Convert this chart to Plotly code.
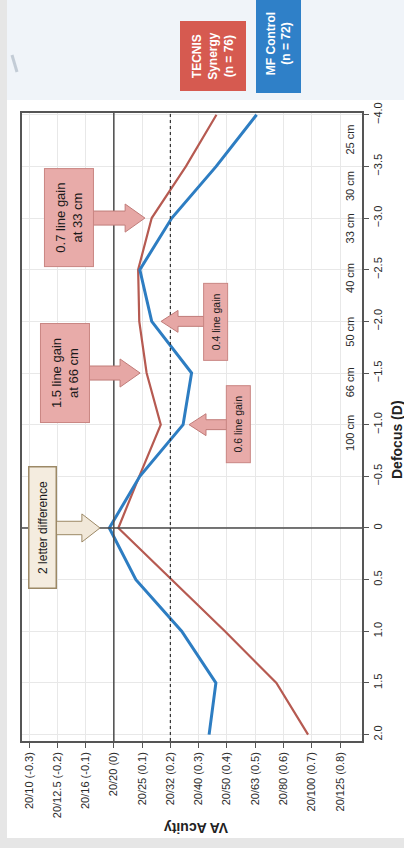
import plotly.graph_objects as go

# ---------------- data ----------------
defocus = [2.0, 1.5, 1.0, 0.5, 0.0, -0.5, -1.0, -1.5, -2.0, -2.5, -3.0, -3.5, -4.0]
synergy = [0.687, 0.575, 0.393, 0.204, 0.016, 0.090, 0.166, 0.116, 0.090, 0.086, 0.134, 0.255, 0.363]
mf_control = [0.337, 0.361, 0.240, 0.078, -0.016, 0.092, 0.245, 0.275, 0.134, 0.092, 0.205, 0.362, 0.505]

va_tickvals = [-0.3, -0.2, -0.1, 0.0, 0.1, 0.2, 0.3, 0.4, 0.5, 0.6, 0.7, 0.8]
va_ticktext = ["20/10 (-0.3)", "20/12.5 (-0.2)", "20/16 (-0.1)", "20/20 (0)", "20/25 (0.1)",
               "20/32 (0.2)", "20/40 (0.3)", "20/50 (0.4)", "20/63 (0.5)", "20/80 (0.6)",
               "20/100 (0.7)", "20/125 (0.8)"]
defocus_tickvals = [-4.0, -3.5, -3.0, -2.5, -2.0, -1.5, -1.0, -0.5, 0.0, 0.5, 1.0, 1.5, 2.0]
defocus_ticktext = ["\u22124.0", "\u22123.5", "\u22123.0", "\u22122.5", "\u22122.0", "\u22121.5",
                    "\u22121.0", "\u22120.5", "0", "0.5", "1.0", "1.5", "2.0"]
cm_labels = ["25 cm", "30 cm", "33 cm", "40 cm", "50 cm", "66 cm", "100 cm"]
cm_label_defocus = [-3.76, -3.31, -2.90, -2.42, -1.90, -1.41, -0.92]

RED = "#B65A51"
BLUE = "#2D7DC2"
FONT = "Liberation Sans, Arial, sans-serif"

fig = go.Figure()
fig.add_trace(go.Scatter(x=synergy, y=defocus, mode="lines",
                         line=dict(color=RED, width=2.2), showlegend=False, hoverinfo="skip"))
fig.add_trace(go.Scatter(x=mf_control, y=defocus, mode="lines",
                         line=dict(color=BLUE, width=3), showlegend=False, hoverinfo="skip"))

# ---------------- background / frame ----------------
def px_x(p):   # pixel -> paper x
    return (p - 22) / 340.0

def px_y(p):   # pixel -> paper y
    return (741 - p) / 628.0

shapes = [
    dict(type="rect", xref="paper", yref="paper", x0=px_x(7), x1=px_x(404), y0=px_y(100), y1=px_y(0),
         fillcolor="#F0F4F9", line=dict(width=0), layer="below"),
    dict(type="rect", xref="paper", yref="paper", x0=px_x(0), x1=px_x(7), y0=px_y(848), y1=px_y(0),
         fillcolor="#E6E6E6", line=dict(width=0), layer="below"),
    dict(type="rect", xref="paper", yref="paper", x0=px_x(0), x1=px_x(404), y0=px_y(848), y1=px_y(838),
         fillcolor="#E6E6E6", line=dict(width=0), layer="below"),
    dict(type="line", xref="paper", yref="paper", x0=px_x(12), x1=px_x(17), y0=px_y(55), y1=px_y(72),
         line=dict(color="#C3CCD6", width=3)),
    # reference lines
    dict(type="line", xref="x", yref="paper", x0=0, x1=0, y0=0, y1=1,
         line=dict(color="#4A4A4A", width=1.5), layer="above"),
    dict(type="line", xref="paper", yref="y", x0=0, x1=1, y0=0, y1=0,
         line=dict(color="#4A4A4A", width=1.5), layer="above"),
    dict(type="line", xref="x", yref="paper", x0=0.2, x1=0.2, y0=0, y1=1,
         line=dict(color="#333333", width=1.2, dash="3px,3px"), layer="above"),
]

# block arrows (data coordinates: VA logMAR, defocus D)
def block_arrow(tail, head_base, tip, center, shaft_half, head_half, fill, edge):
    p = (f"M {tail},{center - shaft_half} L {head_base},{center - shaft_half} "
         f"L {head_base},{center - head_half} L {tip},{center} "
         f"L {head_base},{center + head_half} L {head_base},{center + shaft_half} "
         f"L {tail},{center + shaft_half} Z")
    return dict(type="path", xref="x", yref="y", path=p, fillcolor=fill,
                line=dict(color=edge, width=1), layer="above")

PINK = "#E6A7A5"
PINK_EDGE = "#C07C79"
shapes += [
    block_arrow(-0.074, 0.040, 0.110, -3.0, 0.068, 0.136, PINK, PINK_EDGE),
    block_arrow(-0.091, 0.022, 0.093, -1.5, 0.068, 0.136, PINK, PINK_EDGE),
    block_arrow(-0.205, -0.113, -0.049, 0.0, 0.065, 0.136, "#F1E8D9", "#9C8966"),
    block_arrow(0.319, 0.227, 0.167, -2.0, 0.048, 0.106, PINK, PINK_EDGE),
    block_arrow(0.400, 0.326, 0.266, -1.0, 0.048, 0.106, PINK, PINK_EDGE),
]

annotations = []

def box(text, x, y, w, h, size, bg, border, bw=1, color="#1A1A1A", xref="x", yref="y"):
    annotations.append(dict(text=text, x=x, y=y, xref=xref, yref=yref, showarrow=False,
                            textangle=-90, width=w, height=h, xanchor="center", yanchor="middle",
                            bgcolor=bg, bordercolor=border, borderwidth=bw, borderpad=0,
                            font=dict(family=FONT, size=size, color=color)))

box("0.7 line gain<br>at 33 cm", -0.1585, -3.0, 97, 48, 13, "#E8ABA9", "#C98683")
box("1.5 line gain<br>at 66 cm", -0.1727, -1.5, 98, 48, 13, "#E8ABA9", "#C98683")
box("2 letter difference", -0.2505, 0.0, 120, 26, 12, "#F4ECDF", "#9C8966", bw=1.5)
box("0.4 line gain", 0.3596, -2.0, 76, 23, 10.5, "#E8ABA9", "#C98683")
box("0.6 line gain", 0.441, -1.0, 76, 23, 10.5, "#E8ABA9", "#C98683")

# legend boxes
box("<b>TECNIS<br>Synergy<br>(n = 76)</b>", px_x(213), px_y(56), 68, 64, 12, "#D65A50", "#D65A50",
    color="white", xref="paper", yref="paper")
box("<b>MF Control<br>(n = 72)</b>", px_x(278.5), px_y(43.5), 97, 43, 12, "#2F80C8", "#2F80C8",
    color="white", xref="paper", yref="paper")

# distance labels
for lab, d in zip(cm_labels, cm_label_defocus):
    annotations.append(dict(text=lab, x=px_x(350), y=d, xref="paper", yref="y", showarrow=False,
                            textangle=-90, xanchor="center", yanchor="middle",
                            font=dict(family=FONT, size=11, color="#2A2A2A")))

# axis titles
annotations.append(dict(text="<b>VA Acuity</b>", x=px_x(196), y=px_y(828), xref="paper", yref="paper",
                        showarrow=False, textangle=180, xanchor="center", yanchor="middle",
                        font=dict(family=FONT, size=14, color="#222222")))
annotations.append(dict(text="<b>Defocus (D)</b>", x=px_x(397), y=px_y(440), xref="paper", yref="paper",
                        showarrow=False, textangle=-90, xanchor="center", yanchor="middle",
                        font=dict(family=FONT, size=14, color="#222222")))

fig.update_layout(
    width=404, height=848, autosize=False,
    margin=dict(l=22, r=42, t=113, b=107, pad=0),
    paper_bgcolor="white", plot_bgcolor="white",
    font=dict(family=FONT, size=11, color="#2A2A2A"),
    shapes=shapes, annotations=annotations,
    xaxis=dict(range=[-0.3248, 0.8778], tickvals=va_tickvals, ticktext=va_ticktext,
               tickangle=-90, ticks="outside", ticklen=5, tickcolor="#555555",
               showline=True, linecolor="#555555", linewidth=1.5, mirror=True,
               showgrid=True, gridcolor="#E8E8E8", gridwidth=1, zeroline=False,
               tickfont=dict(family=FONT, size=11, color="#2A2A2A")),
    yaxis=dict(range=[2.062, -4.017], side="right", tickvals=defocus_tickvals, ticktext=defocus_ticktext,
               tickangle=-90, ticks="outside", ticklen=5, tickcolor="#555555",
               showline=True, linecolor="#555555", linewidth=1.5, mirror=True,
               showgrid=True, gridcolor="#E8E8E8", gridwidth=1, zeroline=False,
               tickfont=dict(family=FONT, size=11, color="#2A2A2A")),
)

fig.write_html("out.html")
